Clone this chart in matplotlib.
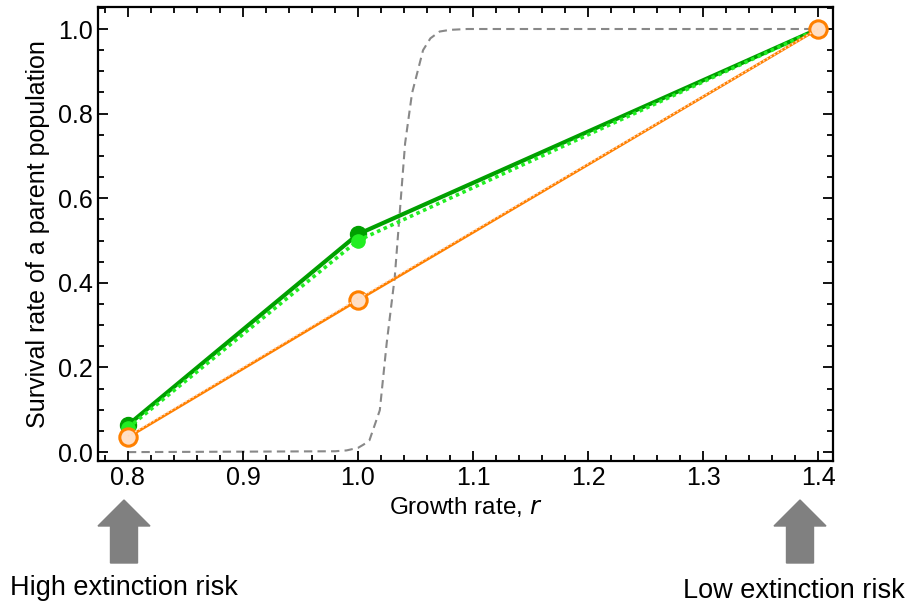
import matplotlib.pyplot as plt
from matplotlib.patches import Polygon
from matplotlib.ticker import MultipleLocator

plt.rcParams['font.family'] = ['Liberation Sans', 'DejaVu Sans']

# data
growth = [0.8, 1.0, 1.4]
surv_dark = [0.064, 0.515, 1.0]
surv_bright = [0.057, 0.500, 1.0]
surv_orange = [0.035, 0.359, 1.0]
surv_peach = [0.038, 0.363, 1.0]

sig_x = [0.80, 0.98, 0.99, 1.00, 1.005, 1.01, 1.019, 1.025, 1.032, 1.0365,
         1.041, 1.047, 1.0566, 1.063, 1.071, 1.08, 1.095, 1.40]
sig_y = [0.0, 0.002, 0.004, 0.010, 0.018, 0.028, 0.099, 0.258, 0.414, 0.572,
         0.73, 0.848, 0.95, 0.978, 0.994, 0.998, 1.0, 1.0]

W, H = 910, 611
fig = plt.figure(figsize=(W / 100, H / 100), dpi=100)
ax = fig.add_axes([98 / W, 1 - 461 / H, 735 / W, 454 / H])

ax.plot(sig_x, sig_y, color='#888888', lw=1.5, dashes=(4, 2.5), zorder=1)

ax.plot(growth, surv_dark, color='#00a000', lw=3, marker='o', ms=11.5,
        mfc='#00a000', mec='#00a000', zorder=3)
ax.plot(growth, surv_bright, color='#22ee22', lw=2.6, ls=(0, (1, 1)),
        marker='o', ms=9.5, mfc='#22ee22', mec='#22ee22', zorder=4)
ax.plot(growth, surv_orange, color='#ff8000', lw=2, marker='o', ms=12.5,
        mfc='#ffdfc6', mec='#ff8000', mew=2.2, zorder=5)
ax.plot(growth, surv_peach, color='#ffd9bd', lw=1.2, ls=(0, (1, 1.5)),
        zorder=6)

ax.set_xlim(0.774, 1.413)
ax.set_ylim(-0.021, 1.052)
ax.xaxis.set_major_locator(MultipleLocator(0.1))
ax.xaxis.set_minor_locator(MultipleLocator(0.02))
ax.yaxis.set_major_locator(MultipleLocator(0.2))
ax.yaxis.set_minor_locator(MultipleLocator(0.05))
ax.xaxis.set_major_formatter(lambda v, p: '%.1f' % v)
ax.yaxis.set_major_formatter(lambda v, p: '%.1f' % v)
ax.tick_params(which='both', direction='in', top=True, right=True,
               width=1.3, labelsize=18)
ax.tick_params(which='major', length=7)
ax.tick_params(which='minor', length=4)
for s in ax.spines.values():
    s.set_linewidth(1.6)

ax.set_xlabel('Growth rate, $\\it{r}$', fontsize=17.5, labelpad=4)
ax.set_ylabel('Survival rate of a parent population', fontsize=18, labelpad=6)


def px(x, y):
    return (x / W, 1 - y / H)


def block_arrow(cx):
    pts = [(cx, 500), (cx + 26, 526), (cx + 13.5, 526), (cx + 13.5, 563),
           (cx - 13.5, 563), (cx - 13.5, 526), (cx - 26, 526)]
    fig.patches.append(Polygon([px(a, b) for a, b in pts], closed=True,
                               transform=fig.transFigure, color='#808080'))


block_arrow(124)
block_arrow(800)

fig.text(10 / W, 1 - 588 / H, 'High extinction risk', fontsize=19.5,
         ha='left', va='center')
fig.text(905 / W, 1 - 591 / H, 'Low extinction risk', fontsize=19.5,
         ha='right', va='center')

fig.savefig('out.png', dpi=100)
